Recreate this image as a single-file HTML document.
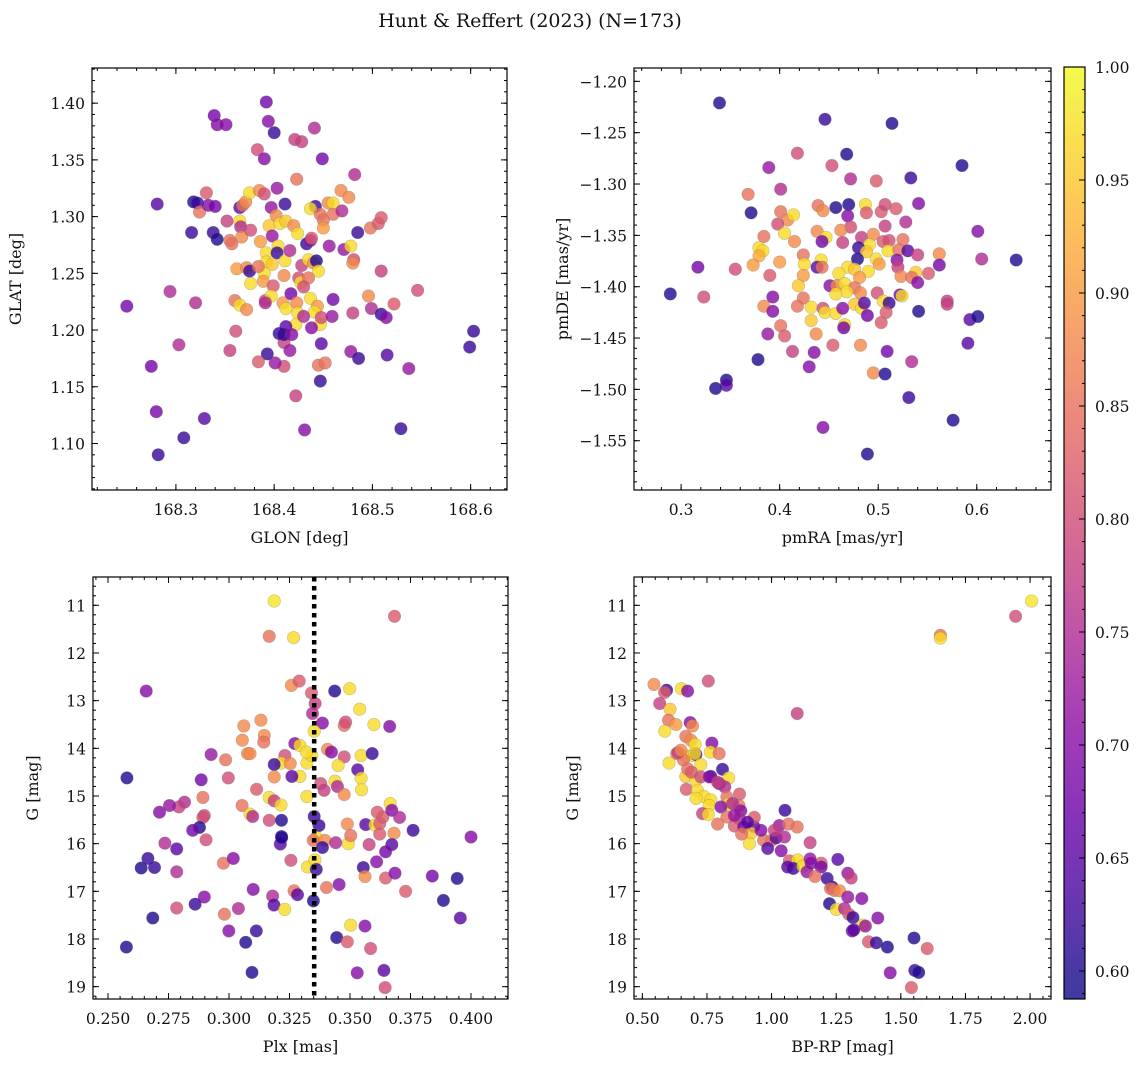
<!DOCTYPE html>
<html><head><meta charset="utf-8"><style>
html,body{margin:0;padding:0;background:#fff}
svg{display:block;font-family:"DejaVu Serif","Liberation Serif",serif}
</style></head><body>
<svg id="fig" width="1148" height="1067" viewBox="0 0 1148 1067" xmlns="http://www.w3.org/2000/svg">
<text x="530" y="27" font-size="19" text-anchor="middle" fill="#111">Hunt &amp; Reffert (2023) (N=173)</text>
</svg>
<script>
// ---------- Panel 1: GLON vs GLAT ----------
const p1Glon=[168.250,168.281,168.275,168.280,168.282,168.294,168.303,168.308,168.320,168.329,168.316,168.318,168.322,168.324,168.331,168.333,168.340,168.338,168.342,168.339,168.342,168.351,168.352,168.355,168.357,168.355,168.361,168.362,168.360,168.365,168.372,168.365,168.366,168.365,168.368,168.371,168.375,168.367,168.376,168.372,168.375,168.376,168.386,168.385,168.390,168.383,168.390,168.392,168.394,168.400,168.403,168.397,168.402,168.395,168.398,168.406,168.412,168.411,168.420,168.424,168.423,168.392,168.404,168.403,168.392,168.398,168.390,168.389,168.399,168.391,168.397,168.384,168.410,168.411,168.416,168.409,168.412,168.417,168.425,168.427,168.428,168.423,168.424,168.422,168.433,168.437,168.438,168.435,168.440,168.443,168.445,168.435,168.430,168.437,168.444,168.441,168.447,168.438,168.448,168.442,168.437,168.447,168.450,168.450,168.456,168.455,168.460,168.460,168.468,168.476,168.469,168.471,168.478,168.481,168.480,168.485,168.482,168.498,168.506,168.509,168.509,168.496,168.499,168.509,168.514,168.522,168.546,168.480,168.478,168.486,168.515,168.537,168.529,168.603,168.599,168.460,168.459,168.448,168.447,168.445,168.452,168.431,168.422,168.410,168.401,168.393,168.384,168.410,168.410,168.412,168.418,168.416,168.405,168.391,168.430,168.421,168.428,168.441,168.449];
const p1Glat=[1.221,1.311,1.168,1.128,1.090,1.234,1.187,1.105,1.224,1.122,1.286,1.313,1.312,1.304,1.321,1.310,1.309,1.286,1.280,1.389,1.381,1.381,1.296,1.279,1.276,1.182,1.199,1.254,1.226,1.222,1.218,1.296,1.291,1.308,1.310,1.313,1.321,1.282,1.288,1.255,1.252,1.241,1.278,1.323,1.320,1.359,1.351,1.401,1.384,1.374,1.325,1.308,1.301,1.292,1.283,1.294,1.296,1.311,1.292,1.285,1.333,1.268,1.274,1.268,1.260,1.258,1.250,1.243,1.239,1.226,1.230,1.256,1.248,1.261,1.270,1.224,1.219,1.232,1.246,1.242,1.257,1.224,1.215,1.205,1.276,1.279,1.281,1.262,1.259,1.261,1.252,1.246,1.238,1.228,1.221,1.216,1.205,1.202,1.211,1.309,1.307,1.302,1.297,1.290,1.274,1.312,1.312,1.302,1.323,1.317,1.305,1.271,1.274,1.262,1.259,1.286,1.337,1.290,1.294,1.299,1.252,1.230,1.219,1.214,1.211,1.223,1.235,1.215,1.181,1.175,1.178,1.166,1.113,1.199,1.185,1.227,1.212,1.188,1.155,1.169,1.171,1.112,1.142,1.168,1.171,1.179,1.172,1.189,1.196,1.203,1.196,1.182,1.197,1.224,1.212,1.368,1.366,1.378,1.351];
const p1Prob=[.68,.65,.68,.68,.62,.75,.75,.62,.75,.65,.62,.60,.62,.85,.82,.70,.68,.62,.60,.68,.70,.70,.78,.85,.85,.78,.80,.90,.85,.97,.88,.97,.75,.65,.85,.88,.97,.88,.80,.88,.62,.97,.90,.88,.80,.80,.70,.68,.70,.62,.72,.72,.88,.95,.72,.97,.95,.62,.88,.97,.85,.97,.97,.62,.97,.95,.97,.90,.82,.80,.97,.85,.88,.97,.75,.90,.97,.68,.80,.97,.78,.88,.97,.97,.62,.70,.82,.97,.88,.60,.97,.85,.80,.97,.90,.97,.97,.70,.80,.62,.97,.85,.85,.90,.72,.88,.97,.85,.88,.88,.75,.72,.97,.80,.88,.62,.75,.85,.82,.82,.78,.88,.75,.62,.70,.82,.80,.78,.72,.62,.65,.72,.62,.62,.62,.68,.72,.65,.62,.85,.85,.70,.78,.80,.72,.62,.82,.78,.60,.65,.70,.72,.62,.75,.75,.78,.78,.75,.68];
const p1XTicks=[168.3,168.4,168.5,168.6];
const p1YTicks=[1.10,1.15,1.20,1.25,1.30,1.35,1.40];

// ---------- Panel 2: pmRA vs pmDE ----------
const p2PmRA=[0.339,0.446,0.514,0.418,0.468,0.389,0.453,0.585,0.472,0.498,0.533,0.368,0.401,0.541,0.371,0.439,0.444,0.457,0.470,0.487,0.488,0.503,0.507,0.518,0.469,0.401,0.408,0.414,0.398,0.528,0.507,0.472,0.601,0.405,0.438,0.462,0.384,0.415,0.447,0.443,0.464,0.483,0.495,0.505,0.511,0.525,0.491,0.480,0.510,0.488,0.521,0.530,0.379,0.383,0.379,0.562,0.540,0.605,0.640,0.479,0.498,0.501,0.519,0.317,0.355,0.373,0.400,0.424,0.425,0.442,0.438,0.443,0.469,0.476,0.460,0.490,0.481,0.520,0.562,0.551,0.538,0.523,0.534,0.540,0.390,0.424,0.419,0.451,0.458,0.466,0.476,0.468,0.457,0.482,0.289,0.323,0.393,0.424,0.499,0.505,0.511,0.522,0.524,0.570,0.570,0.384,0.393,0.418,0.432,0.444,0.446,0.457,0.464,0.476,0.483,0.486,0.489,0.508,0.541,0.593,0.601,0.432,0.466,0.465,0.503,0.401,0.405,0.388,0.437,0.454,0.482,0.591,0.413,0.435,0.509,0.534,0.378,0.430,0.495,0.507,0.346,0.346,0.335,0.531,0.576,0.444,0.489];
const p2PmDE=[-1.221,-1.237,-1.241,-1.270,-1.271,-1.284,-1.282,-1.282,-1.295,-1.297,-1.294,-1.310,-1.305,-1.319,-1.328,-1.321,-1.326,-1.323,-1.320,-1.320,-1.328,-1.327,-1.320,-1.324,-1.331,-1.327,-1.335,-1.330,-1.339,-1.337,-1.341,-1.342,-1.346,-1.348,-1.346,-1.345,-1.351,-1.356,-1.352,-1.356,-1.357,-1.352,-1.349,-1.356,-1.355,-1.354,-1.359,-1.362,-1.365,-1.366,-1.364,-1.365,-1.362,-1.365,-1.370,-1.368,-1.369,-1.373,-1.374,-1.373,-1.373,-1.378,-1.374,-1.381,-1.383,-1.379,-1.376,-1.369,-1.378,-1.374,-1.381,-1.381,-1.381,-1.383,-1.387,-1.385,-1.391,-1.381,-1.379,-1.387,-1.386,-1.390,-1.391,-1.396,-1.389,-1.389,-1.399,-1.399,-1.399,-1.397,-1.401,-1.405,-1.407,-1.406,-1.407,-1.410,-1.410,-1.411,-1.406,-1.414,-1.416,-1.408,-1.409,-1.414,-1.417,-1.419,-1.424,-1.419,-1.420,-1.421,-1.425,-1.426,-1.421,-1.417,-1.421,-1.416,-1.428,-1.425,-1.424,-1.432,-1.429,-1.433,-1.437,-1.440,-1.435,-1.438,-1.448,-1.446,-1.446,-1.457,-1.457,-1.455,-1.463,-1.464,-1.463,-1.473,-1.471,-1.478,-1.484,-1.485,-1.491,-1.496,-1.499,-1.508,-1.530,-1.537,-1.563];
const p2Prob=[.60,.62,.60,.80,.60,.72,.80,.60,.75,.82,.62,.85,.75,.70,.60,.85,.88,.60,.60,.97,.82,.82,.80,.82,.70,.85,.88,.97,.80,.75,.78,.80,.70,.97,.88,.88,.85,.88,.97,.68,.78,.78,.88,.82,.80,.85,.97,.62,.97,.95,.85,.65,.97,.97,.92,.88,.78,.75,.60,.60,.97,.90,.70,.68,.80,.90,.90,.85,.97,.97,.65,.85,.97,.95,.97,.97,.90,.78,.68,.82,.95,.88,.85,.70,.82,.90,.95,.70,.88,.97,.85,.97,.97,.88,.60,.80,.70,.85,.80,.97,.62,.68,.97,.78,.78,.88,.70,.85,.97,.80,.97,.97,.70,.95,.97,.65,.68,.82,.60,.65,.60,.95,.97,.68,.82,.85,.82,.72,.88,.82,.88,.65,.78,.70,.68,.75,.60,.70,.88,.60,.60,.65,.60,.62,.60,.70,.60];
const p2XTicks=[0.3,0.4,0.5,0.6];
const p2YTicks=[-1.55,-1.50,-1.45,-1.40,-1.35,-1.30,-1.25,-1.20];

// ---------- Panel 3: Plx vs G ----------
const p3Plx=[0.3187,0.3166,0.3267,0.3684,0.2658,0.3258,0.3290,0.3341,0.3437,0.3499,0.3356,0.3345,0.3540,0.3386,0.3476,0.3482,0.3599,0.3664,0.3352,0.3061,0.3132,0.3146,0.3144,0.3055,0.3077,0.3087,0.2926,0.2986,0.2997,0.2885,0.2578,0.3272,0.3293,0.3231,0.3215,0.3187,0.3253,0.3293,0.3260,0.3187,0.3322,0.3342,0.3320,0.3407,0.3423,0.3476,0.3451,0.3532,0.3546,0.3592,0.3546,0.3548,0.3438,0.3448,0.3476,0.3379,0.3393,0.3322,0.3114,0.3166,0.3187,0.3215,0.3054,0.3087,0.3098,0.3166,0.3217,0.2892,0.2816,0.2793,0.2754,0.2713,0.2898,0.2892,0.2878,0.2850,0.2905,0.2735,0.2784,0.2665,0.2637,0.2692,0.2784,0.2977,0.3018,0.3256,0.3212,0.3217,0.3218,0.3352,0.3372,0.3361,0.3348,0.3396,0.3386,0.3441,0.3493,0.3489,0.3503,0.3565,0.3603,0.3623,0.3613,0.3636,0.3666,0.3673,0.3705,0.3682,0.3623,0.3579,0.3673,0.3647,0.3610,0.3555,0.3562,0.3647,0.3686,0.3761,0.4000,0.3840,0.3943,0.3886,0.3956,0.3730,0.3403,0.3455,0.3349,0.3324,0.3355,0.3361,0.3269,0.3283,0.3180,0.3186,0.3230,0.3100,0.3039,0.2981,0.2898,0.2860,0.2784,0.2685,0.2576,0.2999,0.3113,0.3069,0.3095,0.3445,0.3489,0.3503,0.3562,0.3585,0.3530,0.3640,0.3645];
const p3G=[10.91,11.65,11.68,11.23,12.80,12.68,12.59,12.84,12.80,12.75,13.06,13.27,13.18,13.47,13.52,13.45,13.50,13.54,13.64,13.53,13.41,13.73,13.87,13.83,14.11,14.11,14.13,14.24,14.62,14.66,14.62,13.90,13.94,14.15,14.31,14.34,14.32,14.59,14.59,14.60,14.31,14.15,14.08,14.02,14.08,14.18,14.36,14.45,14.15,14.11,14.63,14.87,14.69,14.80,14.97,14.74,14.88,15.01,14.86,15.03,15.10,15.19,15.20,15.38,15.43,15.51,15.51,15.03,15.13,15.23,15.20,15.34,15.41,15.45,15.66,15.72,15.92,15.99,16.11,16.31,16.51,16.50,16.59,16.41,16.31,16.35,16.01,15.85,15.87,15.43,15.62,15.87,15.93,15.93,16.08,15.98,16.00,15.59,15.83,15.60,15.61,15.58,15.34,15.44,15.16,15.30,15.45,15.78,15.80,16.02,16.02,16.17,16.38,16.50,16.69,16.72,16.62,15.72,15.86,16.68,16.73,17.19,17.56,17.00,16.92,16.86,17.20,16.49,16.34,16.54,16.99,17.07,17.10,17.29,17.38,16.96,17.36,17.48,17.12,17.27,17.35,17.56,18.17,17.83,17.83,18.07,18.70,17.97,18.06,17.71,17.73,18.20,18.71,18.66,19.02];
const p3Prob=[.98,.85,.97,.82,.70,.88,.82,.82,.60,.97,.78,.75,.97,.70,.85,.80,.97,.70,.97,.88,.88,.88,.85,.88,.88,.88,.72,.85,.80,.68,.60,.70,.97,.80,.97,.62,.88,.97,.65,.88,.97,.97,.97,.88,.70,.80,.97,.65,.97,.62,.97,.97,.97,.75,.88,.80,.78,.97,.82,.97,.78,.97,.85,.97,.75,.80,.60,.85,.75,.78,.72,.70,.80,.80,.60,.68,.80,.75,.65,.62,.60,.62,.75,.85,.70,.80,.65,.62,.60,.62,.62,.97,.85,.88,.62,.75,.97,.88,.85,.65,.97,.82,.82,.82,.97,.70,.75,.88,.82,.78,.65,.68,.70,.62,.88,.82,.70,.62,.70,.68,.60,.60,.65,.82,.85,.70,.60,.97,.97,.62,.85,.65,.75,.65,.97,.70,.75,.85,.70,.62,.80,.60,.60,.70,.62,.60,.60,.60,.82,.97,.70,.80,.70,.65,.80];
const p3XTicks=[0.250,0.275,0.300,0.325,0.350,0.375,0.400];
const gTicks=[11,12,13,14,15,16,17,18,19];
const plxRef=[0.3352];

// ---------- Panel 4: BP-RP vs G ----------
const p4BpRp=[2.006,1.944,1.653,1.653,0.755,0.545,0.594,0.586,0.651,0.675,0.567,0.607,1.099,0.601,0.630,0.587,0.685,0.694,0.668,0.688,0.704,0.769,0.763,0.797,0.633,0.603,0.668,0.694,0.707,0.726,0.659,0.810,0.765,0.668,0.707,0.834,0.797,0.819,0.670,0.713,0.739,0.765,0.708,0.758,0.827,0.876,0.832,0.874,0.804,0.881,1.052,0.733,0.755,0.827,0.876,0.791,0.856,0.892,0.931,0.933,0.920,0.914,0.884,0.969,1.000,0.985,1.017,1.050,1.037,1.030,1.065,1.099,1.149,1.069,1.101,1.084,1.121,1.149,1.137,1.192,1.192,1.168,1.215,1.256,1.295,1.308,1.234,1.228,1.243,1.263,1.224,1.250,1.282,1.295,1.349,1.299,1.315,1.411,1.353,1.363,1.312,1.318,1.375,1.405,1.448,1.551,1.602,1.459,1.554,1.569,1.541,0.638,0.649,0.703,0.675,0.690,0.726,0.759,0.791,0.849,0.856,0.907,0.959,1.011,1.062,1.153];
const p4G=[10.91,11.23,11.63,11.69,12.59,12.66,12.78,12.83,12.75,12.80,13.06,13.18,13.27,13.41,13.50,13.64,13.46,13.53,13.75,13.83,13.92,13.89,14.08,14.11,14.11,14.31,14.16,14.15,14.13,14.34,14.24,14.44,14.59,14.59,14.67,14.62,14.74,14.81,14.86,14.88,15.01,15.08,15.05,15.20,15.02,14.96,15.17,15.20,15.23,15.31,15.30,15.37,15.39,15.44,15.48,15.59,15.63,15.65,15.64,15.45,15.78,16.00,15.80,15.93,15.93,16.10,15.88,15.86,16.15,15.62,15.59,15.65,15.98,16.36,16.34,16.52,16.47,16.32,16.59,16.41,16.49,16.69,16.73,16.33,16.62,16.72,16.91,16.94,16.98,16.99,17.26,17.38,17.36,17.12,17.15,17.48,17.55,17.56,17.71,17.73,17.83,17.81,18.06,18.08,18.17,17.98,18.20,18.71,18.66,18.70,19.02,14.09,14.04,14.11,14.43,14.50,14.60,14.60,14.71,15.16,15.41,15.55,15.72,15.72,16.49,16.41];
const p4Prob=[.98,.80,.85,.97,.80,.88,.62,.82,.97,.70,.78,.95,.78,.85,.90,.97,.70,.88,.85,.88,.97,.70,.97,.85,.85,.97,.97,.97,.62,.97,.85,.62,.62,.95,.97,.97,.70,.75,.82,.97,.97,.97,.97,.97,.85,.82,.97,.85,.70,.70,.62,.78,.97,.85,.75,.85,.82,.68,.65,.82,.95,.97,.85,.85,.85,.65,.65,.75,.70,.72,.85,.85,.78,.82,.97,.62,.97,.72,.72,.82,.68,.85,.62,.65,.72,.78,.62,.85,.85,.88,.60,.97,.75,.72,.70,.82,.62,.70,.97,.72,.68,.65,.82,.62,.60,.60,.82,.70,.62,.60,.82,.78,.88,.97,.85,.82,.80,.70,.78,.75,.72,.65,.70,.78,.65,.70];
const p4XTicks=[0.50,0.75,1.00,1.25,1.50,1.75,2.00];

// ---------- Colorbar ----------
const cbTicks=[0.60,0.65,0.70,0.75,0.80,0.85,0.90,0.95,1.00];
const cbMin=0.5876, cbMax=1.0;

const NS='http://www.w3.org/2000/svg';
const svg=document.getElementById('fig');
function mk(tag,attrs,parent){const e=document.createElementNS(NS,tag);for(const k in attrs)e.setAttribute(k,attrs[k]);(parent||svg).appendChild(e);return e;}

const plasma=[[13,8,135],[65,4,157],[106,0,168],[143,13,164],[177,42,144],[204,71,120],[225,100,98],[242,132,75],[252,166,54],[252,206,37],[240,249,33]];
function cmap(v){let t=(v-cbMin)/(cbMax-cbMin);t=Math.max(0,Math.min(1,t));const s=t*10,i=Math.min(9,Math.floor(s)),f=s-i;const a=plasma[i],b=plasma[i+1];
 const c=[0,1,2].map(k=>Math.round(a[k]+(b[k]-a[k])*f));return 'rgb('+c.join(',')+')';}

const TF=15.5;
function panel(o){
 const g=mk('g',{});
 
 
 const X=v=>o.x0+(v-o.xd[0])/(o.xd[1]-o.xd[0])*(o.x1-o.x0);
 const Y=v=>o.yInv? o.y0+(v-o.yd[0])/(o.yd[1]-o.yd[0])*(o.y1-o.y0) : o.y1-(v-o.yd[0])/(o.yd[1]-o.yd[0])*(o.y1-o.y0);
 const clip='clip-'+o.name;
 const cp=mk('clipPath',{id:clip},g);mk('rect',{x:o.x0,y:o.y0,width:o.x1-o.x0,height:o.y1-o.y0},cp);
 const pts=mk('g',{'clip-path':'url(#'+clip+')'},g);
 for(let i=0;i<o.xs.length;i++){
  const c=mk('circle',{cx:X(o.xs[i]).toFixed(1),cy:Y(o.ys[i]).toFixed(1),r:6.3,fill:cmap(o.ps[i]),'fill-opacity':0.8,stroke:'#666','stroke-opacity':0.35,'stroke-width':0.6},pts);
  
  
 }
 if(o.vline){for(const v of o.vline){const l=mk('line',{x1:X(v),x2:X(v),y1:o.y0,y2:o.y1,stroke:'#000','stroke-width':4.5,'stroke-dasharray':'4.5 4.5'},g);
  
  }}
 const tk=mk('g',{stroke:'#000','stroke-width':1},g);
 for(let v=Math.ceil(o.xd[0]/o.xmin-1e-6)*o.xmin; v<=o.xd[1]; v+=o.xmin){const x=X(v);mk('line',{x1:x,x2:x,y1:o.y1,y2:o.y1-3},tk);mk('line',{x1:x,x2:x,y1:o.y0,y2:o.y0+3},tk);}
 for(let v=Math.ceil(o.yd[0]/o.ymin-1e-6)*o.ymin; v<=o.yd[1]; v+=o.ymin){const y=Y(v);mk('line',{x1:o.x0,x2:o.x0+3,y1:y,y2:y},tk);mk('line',{x1:o.x1,x2:o.x1-3,y1:y,y2:y},tk);}
 for(const v of o.xt){const x=X(v);mk('line',{x1:x,x2:x,y1:o.y1,y2:o.y1-6},tk);mk('line',{x1:x,x2:x,y1:o.y0,y2:o.y0+6},tk);
  const t=mk('text',{x:x,y:o.y1+25,'font-size':TF,'text-anchor':'middle',fill:'#111'},g);t.textContent=v.toFixed(o.xf).replace('-','\u2212');
  }
 for(const v of o.yt){const y=Y(v);mk('line',{x1:o.x0,x2:o.x0+6,y1:y,y2:y},tk);mk('line',{x1:o.x1,x2:o.x1-6,y1:y,y2:y},tk);
  const t=mk('text',{x:o.x0-7,y:y+6,'font-size':TF,'text-anchor':'end',fill:'#111'},g);t.textContent=v.toFixed(o.yf).replace('-','\u2212');
  }
 const fr=mk('rect',{x:o.x0,y:o.y0,width:o.x1-o.x0,height:o.y1-o.y0,fill:'none',stroke:'#000','stroke-width':1.2},g);
 
 const xl=mk('text',{x:(o.x0+o.x1)/2,y:o.y1+53,'font-size':16,'text-anchor':'middle',fill:'#111'},g);xl.textContent=o.xl;
 
 const yl=mk('text',{x:0,y:0,'font-size':16,'text-anchor':'middle',fill:'#111',transform:'translate('+o.ylx+','+(o.y0+o.y1)/2+') rotate(-90)'},g);yl.textContent=o.yl;
 
}

panel({name:'panel-sky-position',x0:92,x1:507,y0:68,y1:490,xd:[168.2146,168.637],yd:[1.059,1.431],xs:p1Glon,ys:p1Glat,ps:p1Prob,xt:p1XTicks,yt:p1YTicks,xmin:0.02,ymin:0.01,xf:1,yf:2,xl:'GLON [deg]',yl:'GLAT [deg]',ylx:21});
panel({name:'panel-proper-motion',x0:634,x1:1051,y0:68,y1:490,xd:[0.2522,0.6753],yd:[-1.598,-1.187],xs:p2PmRA,ys:p2PmDE,ps:p2Prob,xt:p2XTicks,yt:p2YTicks,xmin:0.02,ymin:0.01,xf:1,yf:2,xl:'pmRA [mas/yr]',yl:'pmDE [mas/yr]',ylx:568});
panel({name:'panel-parallax-magnitude',x0:93,x1:508,y0:577,y1:999,xd:[0.2438,0.4153],yd:[10.406,19.259],yInv:true,xs:p3Plx,ys:p3G,ps:p3Prob,xt:p3XTicks,yt:gTicks,xmin:0.005,ymin:0.2,xf:3,yf:0,xl:'Plx [mas]',yl:'G [mag]',ylx:38,vline:plxRef});
panel({name:'panel-cmd',x0:634,x1:1051,y0:577,y1:999,xd:[0.4677,2.081],yd:[10.406,19.259],yInv:true,xs:p4BpRp,ys:p4G,ps:p4Prob,xt:p4XTicks,yt:gTicks,xmin:0.05,ymin:0.2,xf:2,yf:0,xl:'BP-RP [mag]',yl:'G [mag]',ylx:578});

// colorbar
(function(){
 const x0=1064,x1=1085,y0=67,y1=999;
 const g=mk('g',{});
 
 
 const Y=v=>y1-(v-cbMin)/(cbMax-cbMin)*(y1-y0);
 const defs=mk('defs',{},g);const lg=mk('linearGradient',{id:'cbg',x1:0,y1:1,x2:0,y2:0},defs);
 for(let i=0;i<=20;i++){const v=cbMin+(cbMax-cbMin)*i/20;mk('stop',{offset:i/20,'stop-color':cmap(v),'stop-opacity':0.8},lg);}
 mk('rect',{x:x0,y:y0,width:x1-x0,height:y1-y0,fill:'url(#cbg)'},g);
 const tk=mk('g',{stroke:'#000','stroke-width':1},g);
 for(let v=0.59;v<=1.0001;v+=0.01){mk('line',{x1:x1,x2:x1-3,y1:Y(v),y2:Y(v)},tk);}
 for(const v of cbTicks){const y=Y(v);mk('line',{x1:x1,x2:x1-6,y1:y,y2:y},tk);
  const t=mk('text',{x:x1+10,y:y+6,'font-size':TF,fill:'#111'},g);t.textContent=v.toFixed(2);
  }
 mk('rect',{x:x0,y:y0,width:x1-x0,height:y1-y0,fill:'none',stroke:'#000','stroke-width':1.2},g);
})();
</script>
</body></html>
